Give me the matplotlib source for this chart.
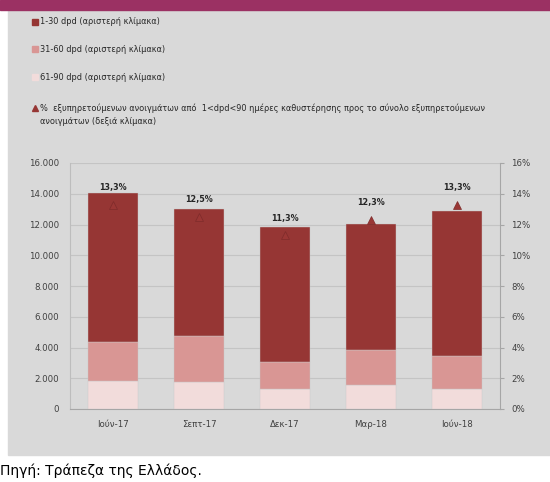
import matplotlib.pyplot as plt
import matplotlib.patches as mpatches
import numpy as np

# Data
periods = ['Ιούν-17', 'Σεπτ-17', 'Δεκ-17', 'Μαρ-18', 'Ιούν-18']
dpd_61_90 = [1800, 1780, 1300, 1540, 1300]
dpd_31_60 = [2550, 3000, 1780, 2280, 2150]
dpd_1_30 = [9700, 8250, 8780, 8210, 9450]
share_pct = [13.3, 12.5, 11.3, 12.3, 13.3]
share_labels = ['13,3%', '12,5%', '11,3%', '12,3%', '13,3%']

left_ticks = [0, 2000, 4000, 6000, 8000, 10000, 12000, 14000, 16000]
left_ticklabels = ['0', '2.000', '4.000', '6.000', '8.000', '10.000', '12.000', '14.000', '16.000']
right_ticks = [0, 2, 4, 6, 8, 10, 12, 14, 16]
right_ticklabels = ['0%', '2%', '4%', '6%', '8%', '10%', '12%', '14%', '16%']

c_dark = '#963634'
c_mid = '#D99694'
c_light = '#F2DCDB'
c_bg = '#D9D9D9'
c_banner = '#9B3163'
c_text = '#404040'

W, H = 550, 482
fig = plt.figure(figsize=(W / 100, H / 100), dpi=100)
fig.patch.set_facecolor('white')

# background panels
fig.patches.append(mpatches.Rectangle((8 / W, 1 - 455 / H), 1, (455 - 10) / H,
                                      transform=fig.transFigure, color=c_bg, zorder=-5))
fig.patches.append(mpatches.Rectangle((0, 1 - 10 / H), 1, 10 / H,
                                      transform=fig.transFigure, color=c_banner, zorder=-5))

# legend (manual, top left)
leg_font = dict(family='DejaVu Sans', fontsize=5.9, color='#262626', va='center')
legend_rows = [(22, 's', c_dark, '1-30 dpd (αριστερή κλίμακα)'),
               (49, 's', c_mid, '31-60 dpd (αριστερή κλίμακα)'),
               (77, 's', c_light, '61-90 dpd (αριστερή κλίμακα)'),
               (108, '^', c_dark, '%  εξυπηρετούμενων ανοιγμάτων από  1<dpd<90 ημέρες καθυστέρησης προς το σύνολο εξυπηρετούμενων')]
for y, m, col, txt in legend_rows:
    fig.lines.append(plt.Line2D([35 / W], [1 - y / H], marker=m, markersize=4, color=col,
                                linestyle='none', transform=fig.transFigure))
    fig.text(40 / W, 1 - y / H, txt, **leg_font)
fig.text(40 / W, 1 - 122 / H, 'ανοιγμάτων (δεξιά κλίμακα)', **leg_font)

# main axes
ax = fig.add_axes([70 / W, (H - 409) / H, 430 / W, 246 / H])
ax.set_facecolor('none')
x = np.arange(len(periods))
width = 0.58
edge = dict(edgecolor='#c8c8c8', linewidth=0.3)
ax.bar(x, dpd_61_90, width, color=c_light, zorder=3, **edge)
ax.bar(x, dpd_31_60, width, bottom=dpd_61_90, color=c_mid, zorder=3, **edge)
bottom2 = np.array(dpd_61_90) + np.array(dpd_31_60)
ax.bar(x, dpd_1_30, width, bottom=bottom2, color=c_dark, zorder=3, **edge)

ax.set_xlim(-0.5, len(periods) - 0.5)
ax.set_ylim(0, 16000)
ax.set_yticks(left_ticks)
ax.set_yticklabels(left_ticklabels)
ax.set_xticks(x)
ax.set_xticklabels(periods)
ax.grid(axis='y', color='#c4c4c4', linewidth=0.8, zorder=0)
ax.tick_params(axis='y', length=0, labelsize=6.2, labelcolor=c_text, pad=8)
ax.tick_params(axis='x', length=0, labelsize=6.2, labelcolor=c_text, pad=8)
for s in ['top', 'right']:
    ax.spines[s].set_visible(False)
ax.spines['left'].set_color('#bdbdbd')
ax.spines['bottom'].set_color('#a6a6a6')

# right axis with share markers
ax2 = ax.twinx()
ax2.set_ylim(0, 16)
ax2.set_yticks(right_ticks)
ax2.set_yticklabels(right_ticklabels)
ax2.tick_params(axis='y', length=3, color='#a6a6a6', labelsize=6.2, labelcolor=c_text, pad=5)
for s in ['top', 'left', 'bottom']:
    ax2.spines[s].set_visible(False)
ax2.spines['right'].set_color('#a6a6a6')
ax2.plot(x, share_pct, linestyle='none', marker='^', markersize=6,
         markerfacecolor='#9a3735', markeredgecolor='#7d2b2a', markeredgewidth=0.5, zorder=5)
for xi, v, lab in zip(x, share_pct, share_labels):
    ax2.annotate(lab, (xi, v), xytext=(0, 9), textcoords='offset points', ha='center',
                 va='bottom', fontsize=5.8, fontweight='bold', color='#262626')

# source note
fig.text(0, 1 - 471 / H, 'Πηγή: Τράπεζα της Ελλάδος.', family='DejaVu Sans',
         fontsize=10, color='black', va='center')

fig.savefig('out.png', dpi=100)
